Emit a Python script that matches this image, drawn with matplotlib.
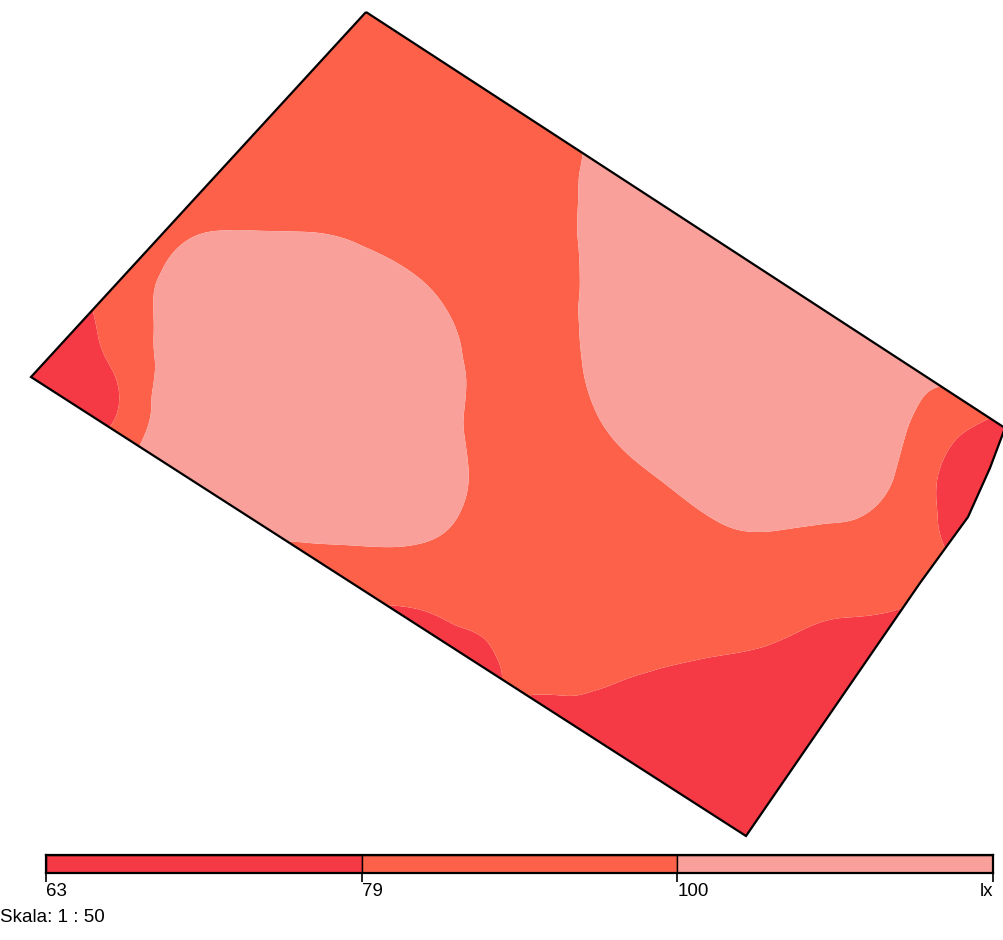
import numpy as np
import matplotlib
matplotlib.use("Agg")
import matplotlib.pyplot as plt
import matplotlib.tri as mtri
from matplotlib.patches import Polygon

plt.rcParams["font.family"] = ["Liberation Sans", "DejaVu Sans"]

# ---- isolux grid (pixel coords of the plan, y down) ----
grid_x = np.arange(0, 1021, 60)   # 18 columns
grid_y = np.arange(0, 901, 60)    # 16 rows
lux = np.array([
    [87, 87, 87, 87, 87, 87, 87, 87, 87, 89, 105, 117, 118, 118, 118, 118, 118, 118],
    [87, 87, 87, 87, 87, 87, 87, 87, 87, 89, 105, 117, 118, 118, 118, 118, 118, 118],
    [87, 87, 87, 87, 87, 87, 87, 87, 87, 89, 105, 117, 118, 118, 118, 118, 118, 118],
    [87, 87, 87, 89, 90, 90, 88, 87, 87, 93, 105, 117, 118, 118, 118, 118, 118, 118],
    [87, 87, 89, 99, 102, 102, 99, 92, 87, 93, 105, 117, 118, 118, 118, 118, 118, 118],
    [70, 75, 88, 107, 112, 114, 110, 104, 92, 93, 105, 117, 118, 118, 118, 118, 110, 100],
    [66, 71, 84, 110, 118, 118, 118, 108, 97, 93, 105, 117, 118, 118, 116, 108, 104, 90],
    [68, 70, 82, 116, 118, 118, 118, 108, 97, 91, 100, 109, 118, 118, 113, 103, 85, 75],
    [86, 88, 102, 112, 118, 118, 113, 108, 97, 86, 93, 100, 108, 110, 109, 97, 70, 68],
    [86, 88, 96, 101, 101, 101, 102, 101, 94, 87, 87, 91, 97, 98, 96, 89, 75, 70],
    [85, 85, 85, 85, 85, 80, 80, 82, 87, 87, 87, 88, 88, 86, 83, 81, 74, 70],
    [80, 80, 80, 80, 80, 80, 72, 72, 76, 86, 85, 81, 78, 75, 71, 68, 66, 66],
    [80, 80, 80, 80, 80, 80, 80, 80, 82, 75, 73, 69, 66, 65, 66, 66, 66, 66],
    [80, 80, 80, 80, 80, 80, 80, 80, 80, 75, 70, 68, 66, 66, 66, 66, 66, 66],
    [70, 70, 70, 70, 70, 70, 70, 70, 70, 70, 70, 68, 66, 66, 70, 70, 70, 70],
    [70, 70, 70, 70, 70, 70, 70, 70, 70, 70, 70, 70, 70, 70, 70, 70, 70, 70],
], dtype=float)

# room outline (scanned plan, slightly warped on the right)
room_x = [366, 1005, 990, 968, 920, 746, 31]
room_y = [12, 428, 468, 517, 583, 836, 377]

# isolux classes
level_vals = [63, 79, 100]
level_colors = ["#f53a45", "#fd6149", "#f9a09a"]
unit = "lx"
scale_text = "Skala: 1 : 50"

# ---- figure ----
fig = plt.figure(figsize=(10.04, 9.40), dpi=100)
ax = fig.add_axes([0, 0, 1, 1])
ax.set_xlim(0, 1004)
ax.set_ylim(940, 0)
ax.axis("off")

X, Y = np.meshgrid(grid_x, grid_y)
tri = mtri.Triangulation(X.ravel(), Y.ravel())
interp = mtri.CubicTriInterpolator(tri, lux.ravel(), kind="min_E")
tri_f, lux_f = mtri.UniformTriRefiner(tri).refine_field(lux.ravel(), triinterpolator=interp, subdiv=4)

room = Polygon(np.column_stack([room_x, room_y]), closed=True, facecolor="none",
               edgecolor="black", linewidth=1.6, zorder=3)
ax.add_patch(room)
cs = ax.tricontourf(tri_f, lux_f, levels=[-1e3, level_vals[1], level_vals[2], 1e3],
                    colors=level_colors, antialiased=True)
cs.set_clip_path(room)

# ---- legend bar ----
lax = fig.add_axes([46 / 1004, 1 - 873 / 940, 947 / 1004, 18 / 940])
for i, c in enumerate(level_colors):
    lax.bar(i, 1, width=1, align="edge", color=c, edgecolor="black", linewidth=1.0)
lax.set_xlim(0, 3)
lax.set_ylim(0, 1)
lax.set_yticks([])
for s in lax.spines.values():
    s.set_linewidth(1.6)
lax.set_xticks([0, 1, 2, 3])
lax.set_xticklabels([str(v) for v in level_vals] + [unit], fontsize=13.5)
lax.tick_params(axis="x", length=6.5, width=1.2, pad=1)
for k, lab in enumerate(lax.get_xticklabels()):
    lab.set_ha("right" if k == 3 else "left")

fig.text(0, 1 - 918 / 940, scale_text, fontsize=13.5, ha="left", va="center")

fig.savefig("out.png", dpi=100)
